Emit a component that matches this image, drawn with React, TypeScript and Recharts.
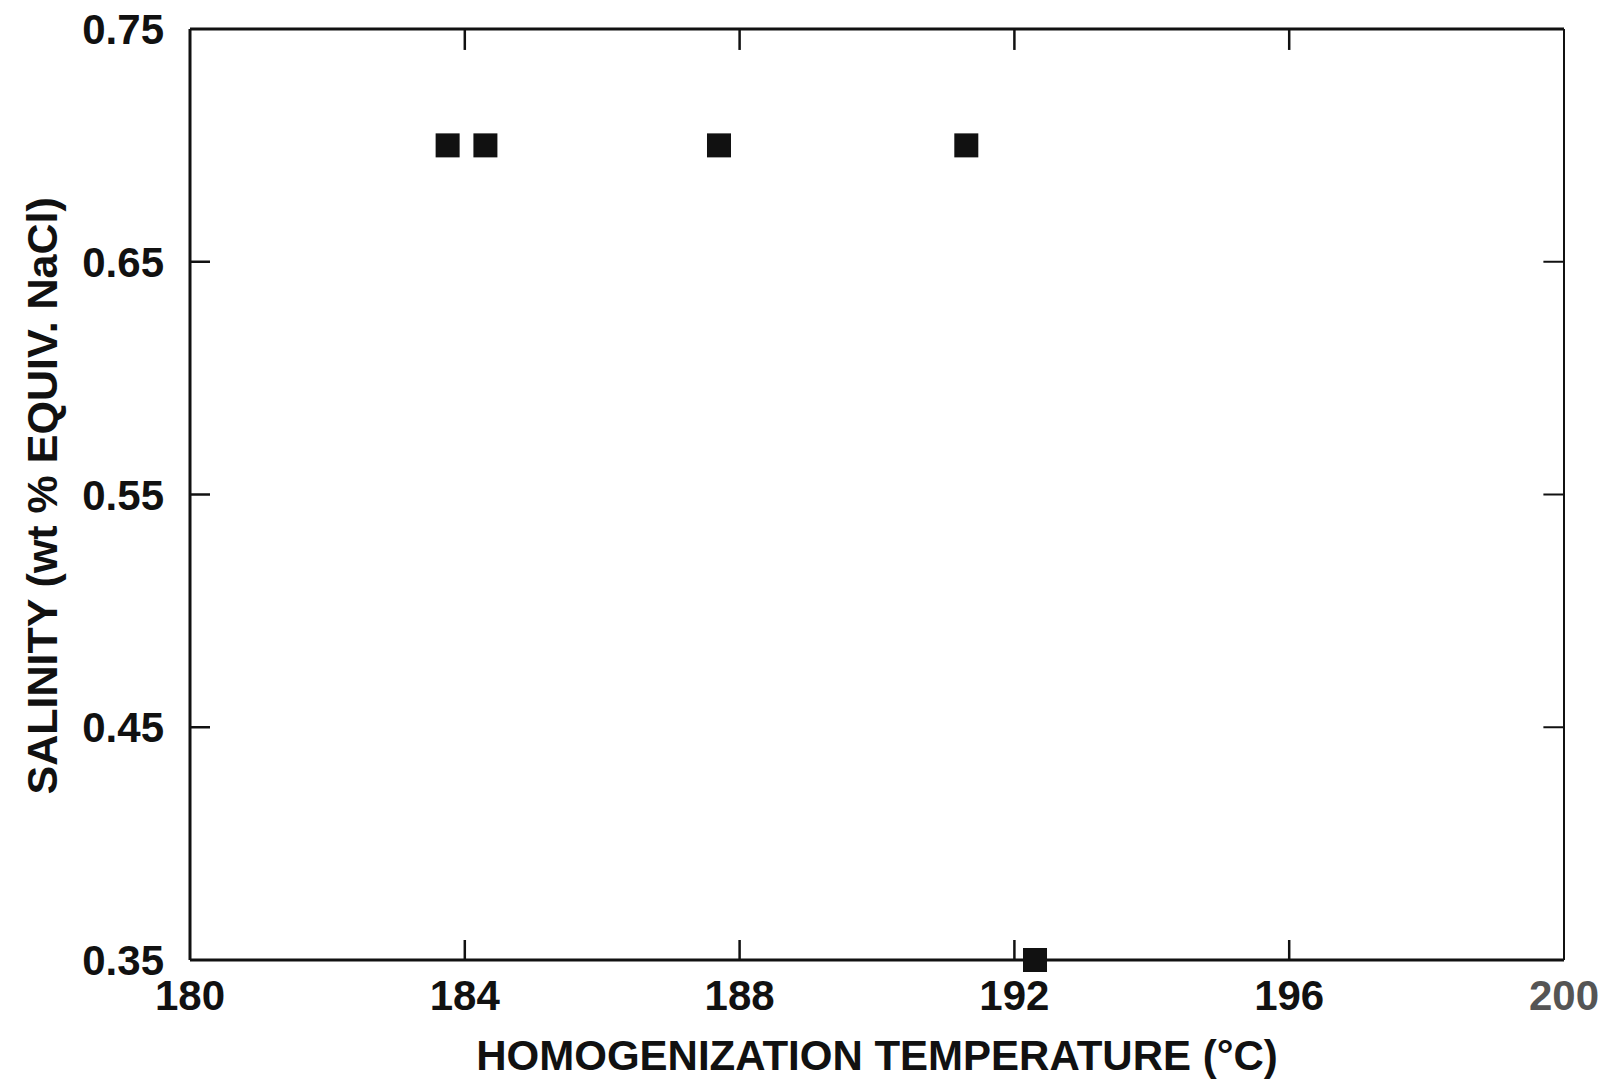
import { ScatterChart, Scatter, XAxis, YAxis, ReferenceLine } from "recharts";

const temperature = [183.75, 184.3, 187.7, 191.3, 192.3];
const salinity = [0.7, 0.7, 0.7, 0.7, 0.35];

const xTicks = [180, 184, 188, 192, 196, 200];
const yTicks = [0.35, 0.45, 0.55, 0.65, 0.75];

const points = temperature.map((t, i) => ({ t, s: salinity[i] }));

const FONT = "'Liberation Sans', Arial, Helvetica, sans-serif";
const INK = "#111";
// inward tick length on the top/right frame, in data units (about 20px)
const TICK_DY = 0.009;
const TICK_DX = 0.3;

const innerX = xTicks.slice(1, -1);
const innerY = yTicks.slice(1, -1);
const X_MAX = xTicks[xTicks.length - 1];
const Y_MAX = yTicks[yTicks.length - 1];

function BottomTick({ x, y, payload, index }: any) {
  const inner = index > 0 && index < xTicks.length - 1;
  return (
    <g>
      {inner && <line x1={x} x2={x} y1={y} y2={y - 20} stroke={INK} strokeWidth={2.5} />}
      <text x={x} y={y + 50} textAnchor="middle" fontFamily={FONT} fontWeight="bold" fontSize={42} fill={index === xTicks.length - 1 ? "#555" : INK}>
        {payload.value}
      </text>
    </g>
  );
}

function LeftTick({ x, y, payload, index }: any) {
  const inner = index > 0 && index < yTicks.length - 1;
  return (
    <g>
      {inner && <line x1={x} x2={x + 20} y1={y} y2={y} stroke={INK} strokeWidth={2.5} />}
      <text x={x - 26} y={y + 15} textAnchor="end" fontFamily={FONT} fontWeight="bold" fontSize={42} fill={INK}>
        {payload.value.toFixed(2)}
      </text>
    </g>
  );
}

function SquareMark({ cx, cy }: any) {
  return <rect x={cx - 12} y={cy - 12} width={24} height={24} fill={INK} />;
}

export default function App() {
  return (
    <div style={{ position: "absolute", left: 0, top: 0, width: 1608, height: 1084, background: "#fff" }}>
      <ScatterChart width={1608} height={1084} margin={{ top: 28, right: 43, bottom: 0, left: 0 }}>
        <XAxis
          xAxisId="b"
          type="number"
          dataKey="t"
          domain={[180, 200]}
          ticks={xTicks}
          interval={0}
          height={124}
          tickSize={0}
          tickMargin={0}
          tickLine={false}
          axisLine={{ stroke: INK, strokeWidth: 3 }}
          tick={<BottomTick />}
          label={{ value: "HOMOGENIZATION TEMPERATURE (\u00B0C)", position: "insideBottom", offset: 14, fontFamily: FONT, fontWeight: "bold", fontSize: 42, fill: INK }}
        />
        <XAxis
          xAxisId="t"
          orientation="top"
          type="number"
          dataKey="t"
          domain={[180, 200]}
          ticks={xTicks}
          height={1}
          tickLine={false}
          tick={false}
          axisLine={{ stroke: INK, strokeWidth: 3 }}
        />
        <YAxis
          yAxisId="l"
          type="number"
          dataKey="s"
          domain={[0.35, 0.75]}
          ticks={yTicks}
          interval={0}
          width={190}
          tickSize={0}
          tickMargin={0}
          tickLine={false}
          axisLine={{ stroke: INK, strokeWidth: 3 }}
          tick={<LeftTick />}
          label={{ value: "SALINITY (wt % EQUIV. NaCl)", angle: -90, position: "insideLeft", offset: 42, dy: 300, fontFamily: FONT, fontWeight: "bold", fontSize: 43, fill: INK }}
        />
        <YAxis
          yAxisId="r"
          orientation="right"
          type="number"
          dataKey="s"
          domain={[0.35, 0.75]}
          ticks={yTicks}
          width={1}
          tickLine={false}
          tick={false}
          axisLine={{ stroke: INK, strokeWidth: 2 }}
        />
        {innerX.map((v) => (
          <ReferenceLine
            key={`tx${v}`}
            xAxisId="b"
            yAxisId="l"
            segment={[{ x: v, y: Y_MAX }, { x: v, y: Y_MAX - TICK_DY }]}
            stroke={INK}
            strokeWidth={2.5}
            ifOverflow="visible"
          />
        ))}
        {innerY.map((v) => (
          <ReferenceLine
            key={`ty${v}`}
            xAxisId="b"
            yAxisId="l"
            segment={[{ x: X_MAX, y: v }, { x: X_MAX - TICK_DX, y: v }]}
            stroke={INK}
            strokeWidth={2}
            ifOverflow="visible"
          />
        ))}
        <Scatter xAxisId="b" yAxisId="l" data={points} shape={<SquareMark />} isAnimationActive={false} />
      </ScatterChart>
    </div>
  );
}
